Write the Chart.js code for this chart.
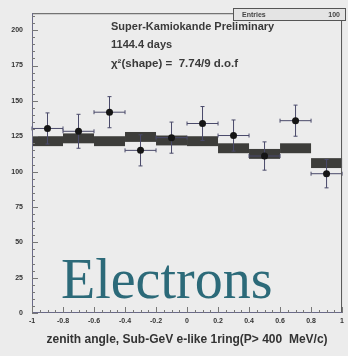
<!DOCTYPE html>
<html>
<head>
<meta charset="utf-8">
<script src="https://cdn.jsdelivr.net/npm/chart.js@4/dist/chart.umd.min.js"></script>
<style>
  html, body { margin: 0; padding: 0; background: #ececec; }
  #wrap { width: 348px; height: 356px; position: relative; }
</style>
</head>
<body>
<div id="wrap"><canvas id="c" width="348" height="356"></canvas></div>
<script>
// Zenith-angle bins (cos θ), bin centres and half width
const binCentres = [-0.9, -0.7, -0.5, -0.3, -0.1, 0.1, 0.3, 0.5, 0.7, 0.9];
const binHalfWidth = 0.1;

// Observed events per bin with statistical errors
const dataValues = [130.5, 128.5, 142, 115, 124, 134, 125.5, 111, 136, 98.5];
const dataErrors = [11, 12, 11, 11, 11, 12, 11, 10, 11, 10];

// Monte Carlo expectation per bin with its uncertainty band
const mcValues = [121.5, 123.5, 121.5, 124.5, 122, 121.5, 116.5, 112.5, 116.5, 106];
const mcErrors = [3.5, 3.5, 3.5, 3.5, 3.5, 3.5, 3.5, 3.5, 3.5, 3.5];

// Axis ticks
const xTicks = [-1, -0.8, -0.6, -0.4, -0.2, 0, 0.2, 0.4, 0.6, 0.8, 1];
const yTicks = [0, 25, 50, 75, 100, 125, 150, 175, 200];

const textLines = ['Super-Kamiokande Preliminary', '1144.4 days', 'χ²(shape) =  7.74/9 d.o.f'];
const statsLabel = 'Entries';
const statsValue = '100';
const bigLabel = 'Electrons';
const xTitle = 'zenith angle, Sub-GeV e-like 1ring(P> 400  MeV/c)';

const points = binCentres.map((x, i) => ({ x: x, y: dataValues[i] }));

const histPlugin = {
  id: 'histPlugin',
  beforeDatasetsDraw(chart) {
    const { ctx, scales: { x, y } } = chart;
    ctx.save();
    // big label behind the data
    ctx.fillStyle = '#2c6a79';
    ctx.font = '56px "Liberation Serif"';
    ctx.textBaseline = 'alphabetic';
    ctx.fillText(bigLabel, 61, 298);

    // MC boxes
    ctx.fillStyle = '#3d3d3a';
    binCentres.forEach((c, i) => {
      const x0 = x.getPixelForValue(c - binHalfWidth);
      const x1 = x.getPixelForValue(c + binHalfWidth);
      const y0 = y.getPixelForValue(mcValues[i] + mcErrors[i]);
      const y1 = y.getPixelForValue(mcValues[i] - mcErrors[i]);
      ctx.fillRect(x0, y0, x1 - x0, y1 - y0);
    });

    // error bars of the data
    ctx.strokeStyle = '#4a4a6a';
    ctx.lineWidth = 1;
    binCentres.forEach((c, i) => {
      const px = x.getPixelForValue(c);
      const py = y.getPixelForValue(dataValues[i]);
      const x0 = x.getPixelForValue(c - binHalfWidth);
      const x1 = x.getPixelForValue(c + binHalfWidth);
      const yt = y.getPixelForValue(dataValues[i] + dataErrors[i]);
      const yb = y.getPixelForValue(dataValues[i] - dataErrors[i]);
      ctx.beginPath();
      ctx.moveTo(x0, py); ctx.lineTo(x1, py);
      ctx.moveTo(px, yt); ctx.lineTo(px, yb);
      ctx.moveTo(x0, py - 2); ctx.lineTo(x0, py + 2);
      ctx.moveTo(x1, py - 2); ctx.lineTo(x1, py + 2);
      ctx.moveTo(px - 2, yt); ctx.lineTo(px + 2, yt);
      ctx.moveTo(px - 2, yb); ctx.lineTo(px + 2, yb);
      ctx.stroke();
    });
    ctx.restore();
  },
  afterDraw(chart) {
    const { ctx, scales: { x, y }, chartArea: a } = chart;
    ctx.save();
    // frame
    ctx.strokeStyle = '#555';
    ctx.lineWidth = 1;
    ctx.strokeRect(a.left + 0.5, a.top + 0.5, a.right - a.left - 1, a.bottom - a.top - 1);
    ctx.strokeStyle = '#6a6a88';
    ctx.beginPath();
    ctx.moveTo(a.left + 0.5, a.top); ctx.lineTo(a.left + 0.5, a.bottom);
    ctx.moveTo(a.left, a.bottom - 0.5); ctx.lineTo(a.right, a.bottom - 0.5);
    ctx.stroke();

    // inward tick marks, major and minor
    ctx.strokeStyle = '#777';
    ctx.beginPath();
    for (let v = 0; v <= 212; v += 5) {
      const py = Math.round(y.getPixelForValue(v)) + 0.5;
      const len = v % 25 === 0 ? 6 : 3;
      ctx.moveTo(a.left, py); ctx.lineTo(a.left + len, py);
    }
    for (let k = -20; k <= 20; k++) {
      const v = k * 0.05;
      const px = Math.round(x.getPixelForValue(v)) + 0.5;
      const len = k % 4 === 0 ? 6 : 3;
      ctx.moveTo(px, a.bottom); ctx.lineTo(px, a.bottom - len);
    }
    ctx.stroke();

    // annotation text
    ctx.fillStyle = '#3a3a3a';
    ctx.textBaseline = 'middle';
    ctx.font = 'bold 11px "Liberation Sans"';
    ctx.fillText(textLines[0], 111, 27);
    ctx.fillText(textLines[1], 111, 45);
    ctx.font = 'bold 11.5px "Liberation Sans"';
    ctx.fillText(textLines[2], 111, 64);

    // statistics box
    ctx.strokeStyle = '#555';
    ctx.strokeRect(233.5, 8.5, 112, 12);
    ctx.fillStyle = '#e4e4e4';
    ctx.fillRect(234, 9, 111, 11);
    ctx.fillStyle = '#444';
    ctx.font = 'bold 7px "Liberation Sans"';
    ctx.fillText(statsLabel, 242, 15);
    ctx.textAlign = 'right';
    ctx.fillText(statsValue, 340, 15);
    ctx.restore();
  }
};

new Chart(document.getElementById('c'), {
  type: 'scatter',
  data: {
    datasets: [{
      data: points,
      pointRadius: 3.5,
      pointHoverRadius: 3.5,
      backgroundColor: '#151515',
      borderColor: '#151515',
      borderWidth: 0
    }]
  },
  options: {
    responsive: false,
    animation: false,
    events: [],
    layout: { padding: { top: 10, right: 4, left: 0, bottom: 0 } },
    plugins: { legend: { display: false }, tooltip: { enabled: false } },
    scales: {
      x: {
        type: 'linear', min: -1, max: 1,
        afterBuildTicks(s) { s.ticks = xTicks.map(v => ({ value: v })); },
        afterFit(s) { s.height = 43; },
        grid: { display: false, drawTicks: false },
        border: { display: false },
        ticks: {
          padding: 4,
          color: '#333',
          font: { family: 'Liberation Sans', size: 7, weight: 'bold' },
          maxRotation: 0,
          callback: v => String(Math.round(v * 10) / 10)
        },
        title: {
          display: true, text: xTitle, color: '#333',
          font: { family: 'Liberation Sans', size: 12, weight: 'bold' },
          padding: { top: 4, bottom: 9 }
        }
      },
      y: {
        type: 'linear', min: 0, max: 212,
        afterBuildTicks(s) { s.ticks = yTicks.map(v => ({ value: v })); },
        afterFit(s) { s.width = 32; },
        grid: { display: false, drawTicks: false },
        border: { display: false },
        ticks: {
          padding: 9,
          color: '#333',
          font: { family: 'Liberation Sans', size: 7, weight: 'bold' }
        }
      }
    }
  },
  plugins: [histPlugin]
});
</script>
</body>
</html>
